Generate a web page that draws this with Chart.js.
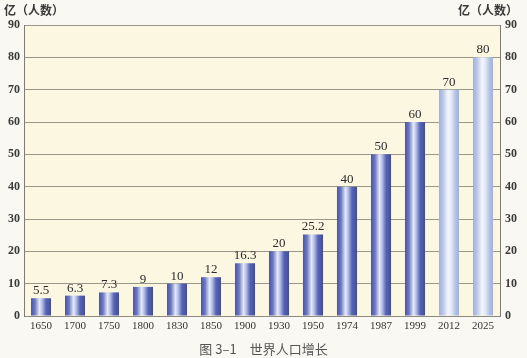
<!DOCTYPE html>
<html>
<head>
<meta charset="utf-8">
<script src="https://cdn.jsdelivr.net/npm/chart.js@4/dist/chart.umd.min.js"></script>
<style>
  html, body { margin: 0; padding: 0; background: #f9f8f3; }
  #wrap { position: relative; width: 527px; height: 358px; overflow: hidden; }
  canvas { position: absolute; left: 0; top: 0; }
  .unit { position: absolute; top: 1px; font-family: "Noto Sans CJK SC", sans-serif; font-size: 12px; color: #3a3a3a; font-weight: bold; }
  #cap { position: absolute; left: 0; width: 527px; top: 339px; text-align: center; font-family: "Noto Sans CJK SC", sans-serif; font-size: 13px; color: #555; }
</style>
</head>
<body>
<div id="wrap">
  <canvas id="c" width="527" height="358"></canvas>
  <div class="unit" style="left:4px">亿（人数）</div>
  <div class="unit" style="left:458px">亿（人数）</div>
  <div id="cap">图 3–1　世界人口增长</div>
</div>
<script>
const years = ["1650","1700","1750","1800","1830","1850","1900","1930","1950","1974","1987","1999","2012","2025"];
const population = [5.5, 6.3, 7.3, 9, 10, 12, 16.3, 20, 25.2, 40, 50, 60, 70, 80];
const valueLabels = ["5.5","6.3","7.3","9","10","12","16.3","20","25.2","40","50","60","70","80"];
const projected = [false,false,false,false,false,false,false,false,false,false,false,false,true,true];
const yTicks = [0,10,20,30,40,50,60,70,80,90];

const BAR_PCT = 0.59;

function barFill(ctx) {
  const chart = ctx.chart;
  const i = ctx.dataIndex;
  const fallback = (i !== undefined && projected[i]) ? '#c0cbe9' : '#5560b0';
  const xs = chart.scales && chart.scales.x;
  if (!xs || i === undefined) return fallback;
  const cx = xs.getPixelForValue(i);
  const w = (xs.width / years.length) * BAR_PCT;
  const x0 = cx - w / 2, x1 = cx + w / 2;
  if (!isFinite(x0) || !isFinite(x1) || !(w > 0)) return fallback;
  const g = chart.ctx.createLinearGradient(x0, 0, x1, 0);
  if (projected[i]) {
    g.addColorStop(0, '#9fb0dc');
    g.addColorStop(0.2, '#b9c6e8');
    g.addColorStop(0.45, '#f4f6fc');
    g.addColorStop(0.6, '#e6ebf7');
    g.addColorStop(0.85, '#aebde3');
    g.addColorStop(1, '#a3b3de');
  } else {
    g.addColorStop(0, '#4a54a4');
    g.addColorStop(0.2, '#6a78c2');
    g.addColorStop(0.42, '#e4e8f6');
    g.addColorStop(0.55, '#b8c2e6');
    g.addColorStop(0.75, '#5664b4');
    g.addColorStop(1, '#434c9c');
  }
  return g;
}

const bgPlugin = {
  id: 'bg',
  beforeDraw(chart) {
    const a = chart.chartArea, c = chart.ctx;
    c.save();
    c.fillStyle = '#fcf7e1';
    c.fillRect(a.left, a.top, a.right - a.left, a.bottom - a.top);
    c.restore();
  }
};

const labelPlugin = {
  id: 'vlabels',
  afterDatasetsDraw(chart) {
    const meta = chart.getDatasetMeta(0);
    const c = chart.ctx;
    c.save();
    c.font = '13px "Liberation Serif", serif';
    c.fillStyle = '#2b2b2b';
    c.textAlign = 'center';
    c.textBaseline = 'bottom';
    meta.data.forEach((el, i) => {
      c.fillText(valueLabels[i], el.x, el.y - 1);
    });
    c.restore();
  }
};

const chart = new Chart(document.getElementById('c'), {
  type: 'bar',
  data: {
    labels: years,
    datasets: [{
      data: population,
      backgroundColor: barFill,
      borderWidth: 0,
      barPercentage: BAR_PCT,
      categoryPercentage: 1.0
    }]
  },
  options: {
    responsive: false,
    animation: false,
    devicePixelRatio: 1,
    layout: { padding: { top: 25, bottom: 25, left: 0, right: 0 } },
    plugins: { legend: { display: false }, tooltip: { enabled: false }, title: { display: false } },
    scales: {
      x: {
        grid: { display: false, drawTicks: false },
        border: { display: true, color: '#8c8a80', width: 1 },
        ticks: { color: '#333', font: { family: '"Liberation Serif", serif', size: 11 }, padding: 4, maxRotation: 0, autoSkip: false },
        afterFit(s) { s.height = 17; }
      },
      y: {
        position: 'left',
        min: 0, max: 90,
        afterBuildTicks(s) { s.ticks = yTicks.map(v => ({ value: v })); },
        grid: { color: '#9a978a', lineWidth: 1, drawTicks: false },
        border: { display: true, color: '#7d7b72', width: 1 },
        ticks: { color: '#3a3a3a', font: { family: '"Liberation Serif", serif', size: 12, weight: 'bold' }, padding: 4 },
        afterFit(s) { s.width = 24; }
      },
      y2: {
        position: 'right',
        min: 0, max: 90,
        afterBuildTicks(s) { s.ticks = yTicks.map(v => ({ value: v })); },
        grid: { display: false, drawTicks: false },
        border: { display: true, color: '#7d7b72', width: 1 },
        ticks: { color: '#3a3a3a', font: { family: '"Liberation Serif", serif', size: 12, weight: 'bold' }, padding: 5 },
        afterFit(s) { s.width = 27; }
      }
    }
  },
  plugins: [bgPlugin, labelPlugin]
});
chart.update();
</script>
</body>
</html>
